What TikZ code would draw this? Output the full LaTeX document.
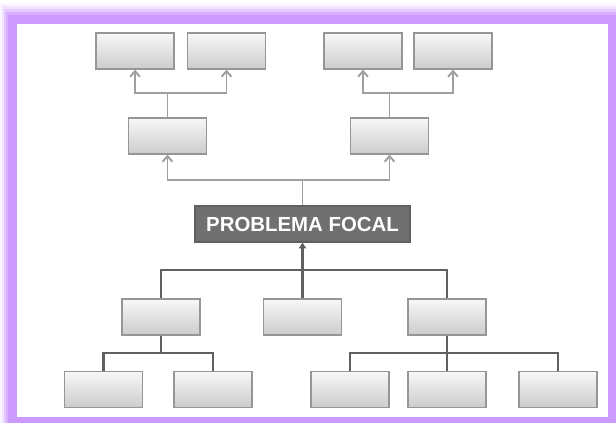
\documentclass[tikz,border=0pt]{standalone}
\usepackage{fontspec}
\setmainfont{Liberation Sans}
\usetikzlibrary{arrows.meta,shadows}

\definecolor{framepurple}{RGB}{204,153,255}
\definecolor{lightline}{RGB}{160,160,160}
\definecolor{darkline}{RGB}{96,96,96}
\definecolor{focalgray}{RGB}{112,112,112}
\definecolor{boxline}{RGB}{150,150,150}

\begin{document}
\begin{tikzpicture}[x=0.025cm,y=-0.025cm,
    box/.style={draw=boxline,line width=0.9pt,top color=gray!6,bottom color=gray!40,minimum width=1.95cm,minimum height=0.9cm,inner sep=0pt,drop shadow={opacity=0.25,shadow xshift=0.6pt,shadow yshift=-0.6pt}},
    focal/.style={draw=darkline,line width=0.9pt,fill=focalgray,text=white,font=\bfseries\fontsize{14.5}{16}\selectfont,minimum width=5.375cm,minimum height=0.9cm,inner sep=0pt,drop shadow={opacity=0.25,shadow xshift=0.6pt,shadow yshift=-0.6pt}},
    upper/.style={draw=lightline,line width=1.4pt},
    lower/.style={draw=darkline,line width=1.6pt}]
        \useasboundingbox (0,0) rectangle (616,423);
        % frame
        \foreach \dx/\dy/\o in {0/3/0.1,2/6/0.2,4/9/0.35,6/12/0.55,8/15/1} {
            \fill[framepurple,opacity=\o] (\dx,\dy) rectangle (616,423);
        }
        \fill[white] (17,24) rectangle (608,417);
        % focal problem
        \node[focal] (pf) at (302.5,224) {PROBLEMA FOCAL};
        % top half
        \node[box] (e1) at (167.5,136) {};
        \node[box] (e2) at (389.5,136) {};
        \node[box] (e11) at (135,51) {};
        \node[box] (e12) at (226.5,51) {};
        \node[box] (e21) at (363,51) {};
        \node[box] (e22) at (453,51) {};
        % bottom half
        \node[box] (c1) at (161,317) {};
        \node[box] (c2) at (302.5,317) {};
        \node[box] (c3) at (447,317) {};
        \node[box] (c11) at (103.5,389.5) {};
        \node[box] (c12) at (213,389.5) {};
        \node[box] (c31) at (350,389.5) {};
        \node[box] (c32) at (447,389.5) {};
        \node[box] (c33) at (558,389.5) {};
        % joints
        \coordinate (jt) at (302.5,180);
        \coordinate (j1) at (167.5,93);
        \coordinate (j2) at (389.5,93);
        \coordinate (jb) at (302.5,270);
        \coordinate (jc1) at (161,353);
        \coordinate (jc3) at (447,353);
        % effects
        \draw[upper] (pf.north) -- (jt);
        \draw[upper,-{Straight Barb[length=4pt,width=7pt]}] (jt) -| (e1.south);
        \draw[upper,-{Straight Barb[length=4pt,width=7pt]}] (jt) -| (e2.south);
        \draw[upper] (e1.north) -- (j1);
        \draw[upper,-{Straight Barb[length=4pt,width=7pt]}] (j1) -| (e11.south);
        \draw[upper,-{Straight Barb[length=4pt,width=7pt]}] (j1) -| (e12.south);
        \draw[upper] (e2.north) -- (j2);
        \draw[upper,-{Straight Barb[length=4pt,width=7pt]}] (j2) -| (e21.south);
        \draw[upper,-{Straight Barb[length=4pt,width=7pt]}] (j2) -| (e22.south);
        % causes
        \draw[lower,-{Triangle[length=4pt,width=5pt]}] (c2.north) -- (pf.south);
        \draw[lower] (c1.north) |- (jb) -| (c3.north);
        \draw[lower] (c1.south) -- (jc1);
        \draw[lower] (c11.north) |- (jc1) -| (c12.north);
        \draw[lower] (c3.south) -- (c32.north);
        \draw[lower] (c31.north) |- (jc3) -| (c33.north);
      \end{tikzpicture}
\end{document}
